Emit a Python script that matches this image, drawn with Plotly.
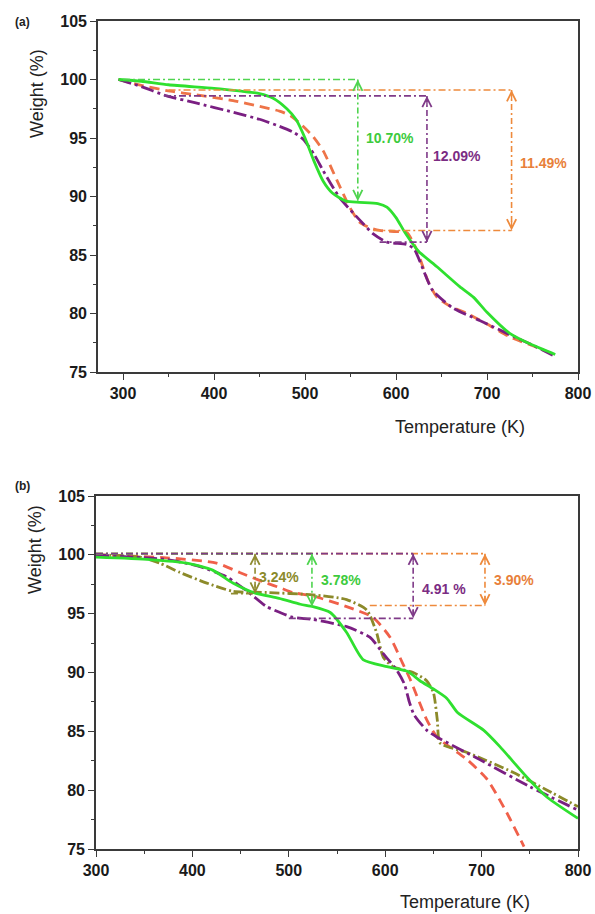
import plotly.graph_objects as go

# ---------------- data: panel (a) ----------------
a_green_x = [295, 320, 350, 400, 430, 450, 465, 480, 490, 500, 510, 520, 530, 545, 560, 580, 590, 600, 610, 625, 645, 670, 685, 700, 725, 750, 775]
a_green_y = [100, 99.85, 99.55, 99.25, 99.0, 98.8, 98.4, 97.5, 96.6, 95.0, 93.0, 91.3, 90.3, 89.6, 89.5, 89.4, 89.1, 88.2, 86.9, 85.3, 84.0, 82.3, 81.4, 80.1, 78.3, 77.3, 76.5]

a_orange_x = [295, 320, 352, 380, 421, 450, 472, 484, 495, 508, 520, 535, 549, 560, 572, 582, 600, 612, 623, 635, 645, 660, 678, 700, 725, 755, 773]
a_orange_y = [100, 99.5, 99.0, 98.7, 98.2, 97.7, 97.3, 96.9, 96.2, 95.2, 93.9, 91.4, 89.1, 87.8, 87.3, 87.1, 87.0, 86.9, 85.4, 82.8, 81.4, 80.6, 80.0, 79.1, 78.0, 77.1, 76.5]

a_purple_x = [295, 320, 348, 380, 421, 450, 472, 487, 498, 510, 520, 538, 560, 575, 590, 612, 620, 626, 640, 662, 692, 722, 750, 773]
a_purple_y = [100, 99.4, 98.6, 98.0, 97.2, 96.6, 96.0, 95.5, 94.9, 93.6, 92.2, 89.9, 88.0, 86.8, 86.1, 85.9, 85.5, 84.5, 82.0, 80.5, 79.4, 78.3, 77.3, 76.4]

# mass-loss markers (a)
a_loss_labels = ["10.70%", "12.09%", "11.49%"]
a_loss_x = [558, 634, 727]
a_loss_top = [100.0, 98.6, 99.1]
a_loss_bottom = [89.6, 86.1, 87.1]
a_top_start = [300, 345, 350]
a_bottom_start = [None, 582, 575]
a_label_x = [593, 667, 762]
a_label_y = [95.0, 93.5, 92.9]

# ---------------- data: panel (b) ----------------
b_green_x = [300, 356, 394, 421, 442, 463, 490, 512, 525, 543, 560, 577, 602, 623, 636, 650, 664, 675, 702, 719, 747, 768, 800]
b_green_y = [99.8, 99.6, 99.3, 98.7, 97.6, 96.8, 96.3, 95.8, 95.6, 95.1, 93.4, 91.1, 90.5, 90.1, 89.3, 88.6, 87.8, 86.6, 85.1, 83.7, 81.1, 79.4, 77.6]

b_purple_x = [300, 340, 374, 408, 436, 457, 477, 491, 504, 525, 560, 584, 598, 612, 620, 625, 630, 643, 654, 698, 750, 800]
b_purple_y = [100, 99.8, 99.6, 99.0, 98.1, 96.9, 95.6, 95.1, 94.7, 94.5, 93.9, 93.0, 91.6, 90.2, 89.0, 87.5, 86.4, 85.1, 84.5, 82.6, 80.3, 78.3]

b_orange_x = [300, 373, 425, 449, 477, 491, 504, 525, 560, 587, 605, 618, 626, 643, 654, 685, 706, 726, 744]
b_orange_y = [100, 99.75, 99.3, 98.5, 97.6, 97.2, 96.8, 96.5, 95.6, 94.7, 93.0, 90.8, 89.4, 86.0, 84.5, 82.6, 80.9, 78.1, 75.2]

b_olive_x = [300, 346, 366, 387, 415, 442, 477, 525, 560, 581, 591, 598, 608, 629, 643, 650, 654, 657, 685, 733, 768, 800]
b_olive_y = [100, 99.8, 99.3, 98.5, 97.6, 96.9, 96.8, 96.6, 96.2, 95.3, 93.4, 91.3, 90.5, 90.0, 89.3, 88.3, 86.0, 84.0, 83.2, 81.5, 80.0, 78.6]

b_loss_labels = ["3.24%", "3.78%", "4.91 %", "3.90%"]
b_loss_x = [465, 524, 629, 703.5]
b_loss_top = [100.1, 100.1, 100.1, 100.1]
b_loss_bottom = [96.7, 95.6, 94.6, 95.7]
b_top_start = [300, 300, 300, 300]
b_bottom_start = [440, None, 500, 584]
b_label_x = [490, 554, 661, 734]
b_label_y = [98.1, 97.9, 97.1, 97.9]

x_ticks = [300, 400, 500, 600, 700, 800]
y_ticks = [75, 80, 85, 90, 95, 100, 105]

# ---------------- styles ----------------
GREEN = "#2FE02F"
ORANGE = "#EE7448"
RED_ORANGE = "#F0604A"
PURPLE = "#7A1F82"
OLIVE = "#8C8A2A"
GREEN_L = "#4FD44F"
ORANGE_L = "#EE8A3C"
PURPLE_L = "#7F3A88"
OLIVE_L = "#8F8B30"
FONT = "Liberation Sans, Arial, sans-serif"
AX = "#3a3a3a"

W, H = 595, 914


def fx(xp):
    return xp / W


def fy(yp):
    return 1 - yp / H


fig = go.Figure()


def curve(x, y, color, dash, xa, ya, width=2.8):
    fig.add_trace(go.Scatter(x=x, y=y, mode="lines", xaxis=xa, yaxis=ya,
                             line=dict(color=color, dash=dash, width=width, shape="spline", smoothing=0.6),
                             showlegend=False, hoverinfo="skip"))


def hline(x0, x1, yv, color, xa, ya):
    fig.add_trace(go.Scatter(x=[x0, x1], y=[yv, yv], mode="lines", xaxis=xa, yaxis=ya,
                             line=dict(color=color, dash="7px,3px,2px,3px", width=1.6),
                             showlegend=False, hoverinfo="skip"))


def varrow(xv, y0, y1, color, xa, ya, ann):
    fig.add_trace(go.Scatter(x=[xv, xv], y=[y0, y1], mode="lines", xaxis=xa, yaxis=ya,
                             line=dict(color=color, dash="6px,3px,2px,3px", width=1.6),
                             showlegend=False, hoverinfo="skip"))
    for tip, tail in ((y0, y0 - 0.9), (y1, y1 + 0.9)):
        ann.append(dict(x=xv, y=tip, ax=xv, ay=tail, xref=xa, yref=ya, axref=xa, ayref=ya,
                        text="", showarrow=True, arrowhead=5, arrowsize=1.3, arrowwidth=1.4,
                        arrowcolor=color, standoff=0, startstandoff=0))


anns = []

# panel (a) curves
curve(a_orange_x, a_orange_y, ORANGE, "10px,6px", "x", "y")
curve(a_purple_x, a_purple_y, PURPLE, "13px,4px,3px,4px", "x", "y")
curve(a_green_x, a_green_y, GREEN, "solid", "x", "y")

a_cols = [GREEN_L, PURPLE_L, ORANGE_L]
a_txt = ["#3DCB3D", "#7B2C83", "#E8803A"]
for i in range(3):
    hline(a_top_start[i], a_loss_x[i], a_loss_top[i], a_cols[i], "x", "y")
    if a_bottom_start[i] is not None:
        hline(a_bottom_start[i], a_loss_x[i], a_loss_bottom[i], a_cols[i], "x", "y")
    varrow(a_loss_x[i], a_loss_top[i], a_loss_bottom[i], a_cols[i], "x", "y", anns)
    anns.append(dict(x=a_label_x[i], y=a_label_y[i], xref="x", yref="y", text=a_loss_labels[i],
                     xanchor="center", yanchor="middle", showarrow=False,
                     font=dict(family=FONT, size=14, color=a_txt[i], weight=700)))

# panel (b) curves
curve(b_orange_x, b_orange_y, RED_ORANGE, "10px,6px", "x2", "y2")
curve(b_olive_x, b_olive_y, OLIVE, "10px,3px,2px,3px", "x2", "y2")
curve(b_purple_x, b_purple_y, PURPLE, "13px,4px,3px,4px", "x2", "y2")
curve(b_green_x, b_green_y, GREEN, "solid", "x2", "y2")

b_cols = [OLIVE_L, GREEN_L, PURPLE_L, ORANGE_L]
b_txt = ["#8B8A2A", "#3DCB3D", "#7B2C83", "#E8803A"]
order = [3, 0, 1, 2]
for i in order:
    hline(b_top_start[i], b_loss_x[i], b_loss_top[i], b_cols[i], "x2", "y2")
for i in range(4):
    if b_bottom_start[i] is not None:
        hline(b_bottom_start[i], b_loss_x[i], b_loss_bottom[i], b_cols[i], "x2", "y2")
    varrow(b_loss_x[i], b_loss_top[i], b_loss_bottom[i], b_cols[i], "x2", "y2", anns)
    anns.append(dict(x=b_label_x[i], y=b_label_y[i], xref="x2", yref="y2", text=b_loss_labels[i],
                     xanchor="center", yanchor="middle", showarrow=False,
                     font=dict(family=FONT, size=14, color=b_txt[i], weight=700)))

# panel letters and axis titles (page-pixel positions)
for txt, (xp, yp) in (("(a)", (22, 22)), ("(b)", (22, 486))):
    anns.append(dict(x=fx(xp), y=fy(yp), xref="paper", yref="paper", text=txt, showarrow=False,
                     xanchor="center", yanchor="middle",
                     font=dict(family=FONT, size=12, color="#222", weight=700)))
for (xp, yp) in ((460, 427), (465, 902)):
    anns.append(dict(x=fx(xp), y=fy(yp), xref="paper", yref="paper", text="Temperature (K)", showarrow=False,
                     xanchor="center", yanchor="middle",
                     font=dict(family=FONT, size=18, color="#222")))
for (xp, yp) in ((37, 94), (35, 550)):
    anns.append(dict(x=fx(xp), y=fy(yp), xref="paper", yref="paper", text="Weight (%)", showarrow=False,
                     xanchor="center", yanchor="middle", textangle=-90,
                     font=dict(family=FONT, size=18, color="#222")))

axis_common = dict(showline=True, linecolor=AX, linewidth=1.6, mirror=True, ticks="outside",
                   ticklen=6, tickwidth=1.4, tickcolor=AX, showgrid=False, zeroline=False,
                   automargin=False,
                   tickfont=dict(family=FONT, size=16, color="#1a1a1a", weight=700))

fig.update_layout(
    width=W, height=H, margin=dict(l=0, r=0, t=0, b=0, autoexpand=False),
    paper_bgcolor="white", plot_bgcolor="white",
    xaxis=dict(domain=[fx(98), fx(578)], range=[272.5, 800], anchor="y", tickvals=x_ticks,
               minor=dict(dtick=50, tick0=300, ticks="outside", ticklen=3, tickcolor=AX), **axis_common),
    yaxis=dict(domain=[fy(372), fy(21)], range=[75, 105], anchor="x", tickvals=y_ticks,
               minor=dict(dtick=2.5, tick0=75, ticks="outside", ticklen=3, tickcolor=AX), **axis_common),
    xaxis2=dict(domain=[fx(96), fx(578)], range=[300, 800], anchor="y2", tickvals=x_ticks,
                minor=dict(dtick=50, tick0=300, ticks="outside", ticklen=3, tickcolor=AX), **axis_common),
    yaxis2=dict(domain=[fy(849), fy(496)], range=[75, 105], anchor="x2", tickvals=y_ticks,
                minor=dict(dtick=2.5, tick0=75, ticks="outside", ticklen=3, tickcolor=AX), **axis_common),
    annotations=anns,
)

fig.write_html("out.html", config={"displayModeBar": False},
               post_script="document.body.style.margin='0';document.body.style.padding='0';"
                           "document.documentElement.style.overflow='hidden';")
